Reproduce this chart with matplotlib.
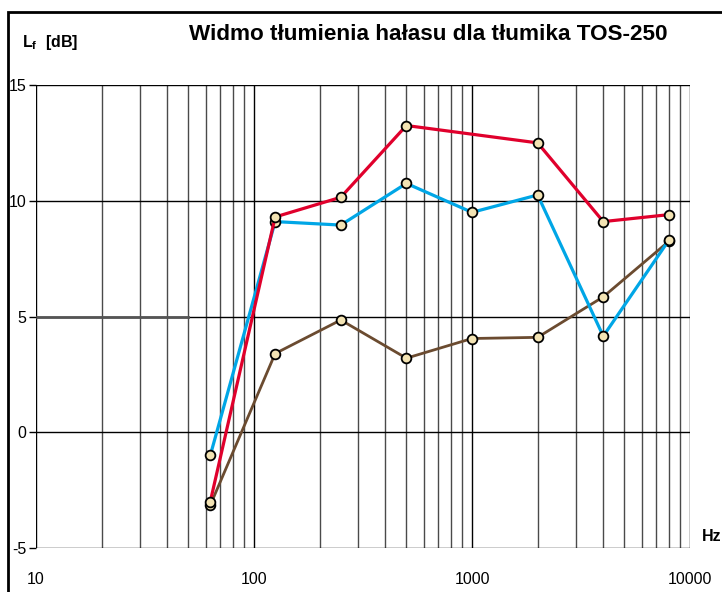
import matplotlib
matplotlib.use("Agg")
import matplotlib.pyplot as plt
from matplotlib.patches import Rectangle
from matplotlib.ticker import FixedLocator, NullFormatter

plt.rcParams['font.family'] = ['Liberation Sans', 'DejaVu Sans']

# pasma oktawowe [Hz]
freq = [63, 125, 250, 500, 1000, 2000, 4000, 8000]
# tłumienie [dB]
red_f = [63, 125, 250, 500, 2000, 4000, 8000]
red_v = [-3.0, 9.3, 10.15, 13.25, 12.5, 9.1, 9.4]
blue_v = [-1.0, 9.1, 8.95, 10.75, 9.5, 10.25, 4.15, 8.3]
brown_v = [-3.15, 3.4, 4.85, 3.2, 4.05, 4.1, 5.85, 8.25]

yticks = [-5, 0, 5, 10, 15]
xticks = [10, 100, 1000, 10000]

fig = plt.figure(figsize=(7.22, 5.92), dpi=100)
ax = fig.add_axes([0.0499, 0.0743, 0.9058, 0.7821])

ax.set_xscale('log')
ax.set_xlim(10, 10000)
ax.set_ylim(-5, 15)

minor = [m * d for d in (10, 100, 1000) for m in range(2, 10)]
for f in minor:
    ax.axvline(f, color='#4a4a4a', lw=1.0, zorder=1)
for f in xticks:
    ax.axvline(f, color='black', lw=1.0, zorder=1)
for v in yticks:
    ax.axhline(v, color='black', lw=1.0, zorder=1)
ax.plot([10, 50], [5, 5], color='#555555', lw=2.0, zorder=1)

mk = dict(marker='o', markersize=7, markerfacecolor='#f3e3b3',
          markeredgecolor='black', markeredgewidth=1.3, zorder=3)
ax.plot(freq, brown_v, color='#6b4b30', lw=2.0, **mk)
ax.plot(freq, blue_v, color='#00a6e6', lw=2.3, **mk)
ax.plot(red_f, red_v, color='#e0002c', lw=2.3, **mk)

for s in ax.spines.values():
    s.set_visible(False)
ax.xaxis.set_major_locator(FixedLocator(xticks))
ax.xaxis.set_minor_formatter(NullFormatter())
ax.set_xticklabels(['10', '100', '1000', '10000'])
ax.set_yticks(yticks)
ax.set_yticklabels(['-5', '0', '5', '10', '15'])
ax.tick_params(axis='x', which='both', length=0, pad=17, labelsize=11.5)
ax.tick_params(axis='y', length=5, width=1, pad=2, labelsize=11.5)

fig.text(0.031, 0.928, r'L$_{\mathregular{f}}$  [dB]', fontsize=11.5,
         fontweight='bold', va='center')
fig.text(0.593, 0.941, 'Widmo tłumienia hałasu dla tłumika TOS-250',
         fontsize=16.2, fontweight='bold', ha='center', va='center')
fig.text(0.986, 0.093, 'Hz', fontsize=11.5, fontweight='bold',
         ha='center', va='center')

fig.patches.append(Rectangle((0.011, -0.05), 1.2, 1.03, transform=fig.transFigure,
                             fill=False, edgecolor='black', lw=2))

fig.savefig('out.png', dpi=100)
